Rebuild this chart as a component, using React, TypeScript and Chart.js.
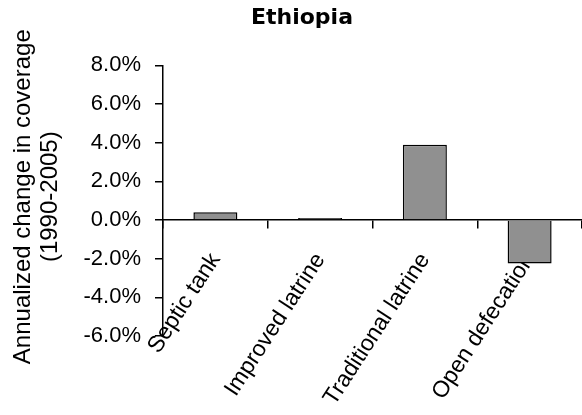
import React, { useEffect, useRef } from 'react';
import { Chart, registerables } from 'chart.js';

Chart.register(...registerables);

const chartTitle = 'Ethiopia';
const yAxisTitle = ['Annualized change in coverage', '(1990-2005)'];
const categories = ['Septic tank', 'Improved latrine', 'Traditional latrine', 'Open defecation'];
const values = [0.4, 0.1, 3.9, -2.25];
const yMin = -6;
const yMax = 8;
const yStep = 2;

const FONT = '"Liberation Sans", Arial, sans-serif';

const yTitlePlugin = {
  id: 'yTitle',
  afterDraw(chart: any) {
    const { ctx, chartArea } = chart;
    const cy = (chartArea.top + chartArea.bottom) / 2 - 4;
    ctx.save();
    ctx.font = `24px ${FONT}`;
    ctx.fillStyle = '#000';
    ctx.textAlign = 'center';
    ctx.textBaseline = 'middle';
    const xs = [23, 50];
    yAxisTitle.forEach((line, i) => {
      ctx.save();
      ctx.translate(xs[i], cy);
      ctx.rotate(-Math.PI / 2);
      ctx.fillText(line, 0, 0);
      ctx.restore();
    });
    ctx.restore();
  },
};

export default function App() {
  const ref = useRef<HTMLCanvasElement | null>(null);

  useEffect(() => {
    document.body.style.margin = '0';
    const canvas = ref.current;
    if (!canvas) return;
    const chart = new Chart(canvas, {
      type: 'bar',
      data: {
        labels: categories,
        datasets: [
          {
            data: values,
            backgroundColor: '#909090',
            borderColor: '#000',
            borderWidth: 1.5,
            barPercentage: 0.42,
            categoryPercentage: 1,
          },
        ],
      },
      options: {
        animation: false,
        responsive: false,
        devicePixelRatio: 1,
        layout: { padding: { left: 22, right: 0, top: 0, bottom: 79 } },
        plugins: {
          legend: { display: false },
          tooltip: { enabled: false },
          title: {
            display: true,
            text: chartTitle,
            color: '#000',
            font: { family: '"DejaVu Sans", Verdana, sans-serif', weight: 'bold', size: 22 },
            padding: { top: 5, bottom: 34 },
          },
        },
        scales: {
          x: {
            type: 'category',
            position: { y: 0 } as any,
            offset: true,
            grid: {
              offset: true,
              drawOnChartArea: false,
              drawTicks: true,
              tickLength: 8,
              color: '#000',
              lineWidth: 1.5,
            },
            border: { color: '#000', width: 1.5 },
            ticks: {
              color: '#000',
              font: { family: FONT, size: 23 },
              minRotation: 57,
              maxRotation: 57,
              padding: 20,
              autoSkip: false,
            },
          },
          y: {
            min: yMin,
            max: yMax,
            afterFit(scale: any) {
              scale.width = 141;
            },
            grid: {
              drawOnChartArea: false,
              drawTicks: true,
              tickLength: 8,
              color: '#000',
              lineWidth: 1.5,
            },
            border: { color: '#000', width: 1.5 },
            ticks: {
              stepSize: yStep,
              color: '#000',
              font: { family: FONT, size: 22 },
              padding: 14,
              callback: (v: any) => Number(v).toFixed(1) + '%',
            },
          },
        },
      },
      plugins: [yTitlePlugin],
    });
    return () => chart.destroy();
  }, []);

  return (
    <div style={{ width: 582, height: 415 }}>
      <canvas ref={ref} width={582} height={415} />
    </div>
  );
}
